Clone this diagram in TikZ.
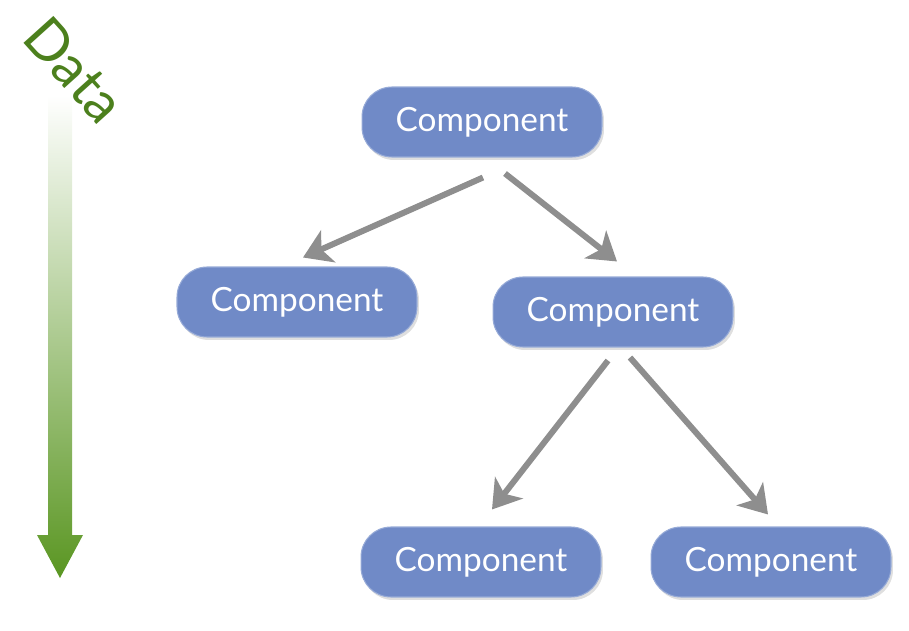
\documentclass[tikz,border=0pt]{standalone}
\usepackage{fontspec}
\setmainfont{Lato}
\usetikzlibrary{arrows.meta,calc,shadows}
\definecolor{compBlue}{RGB}{112,138,199}
\definecolor{compEdge}{RGB}{150,170,215}
\definecolor{linkGray}{RGB}{142,142,142}
\definecolor{dataGreen}{RGB}{90,150,34}
\definecolor{dataLight}{RGB}{185,212,160}
\begin{document}
\begin{tikzpicture}[x=0.02cm, y=-0.02cm,
            comp/.style={rectangle, draw=compEdge, line width=0.6pt, fill=compBlue, text=white,
                minimum width=4.8cm, minimum height=1.4cm, rounded corners=0.6cm,
                font=\fontsize{19}{24}\selectfont, drop shadow={opacity=0.25, shadow xshift=0.04cm, shadow yshift=-0.06cm}},
            link/.style={draw=linkGray, line width=0.12cm, -{Stealth[length=0.55cm, width=0.7cm, inset=0.15cm]}}
        ]
        \useasboundingbox (0,0) rectangle (909,631);

        % Fluxo de dados
        \shade[top color=white, middle color=dataLight, bottom color=dataGreen]
            (48,95) -- (72,95) -- (72,535) -- (83,535) -- (60,578) -- (37,535) -- (48,535) -- cycle;
        \node[text=dataGreen!85!black, rotate=-48, font=\fontsize{32}{34}\selectfont] (data) at (75,70) {Data};

        % Componentes
        \node[comp] (root) at (482,122) {Component};
        \node[comp] (left) at (297,302) {Component};
        \node[comp] (mid) at (613,312) {Component};
        \node[comp] (botleft) at (481,562) {Component};
        \node[comp] (botright) at (771,562) {Component};

        % Conexões
        \draw[link] ($(root.south)+(1,20)$) -- ($(left.north)+(6,-9)$);
        \draw[link] ($(root.south)+(23,16)$) -- ($(mid.north)+(4,-15)$);
        \draw[link] ($(mid.south)+(-5,13)$) -- ($(botleft.north)+(11,-17)$);
        \draw[link] ($(mid.south)+(17,10)$) -- ($(botright.north)+(-3,-12)$);

    \end{tikzpicture}
\end{document}
